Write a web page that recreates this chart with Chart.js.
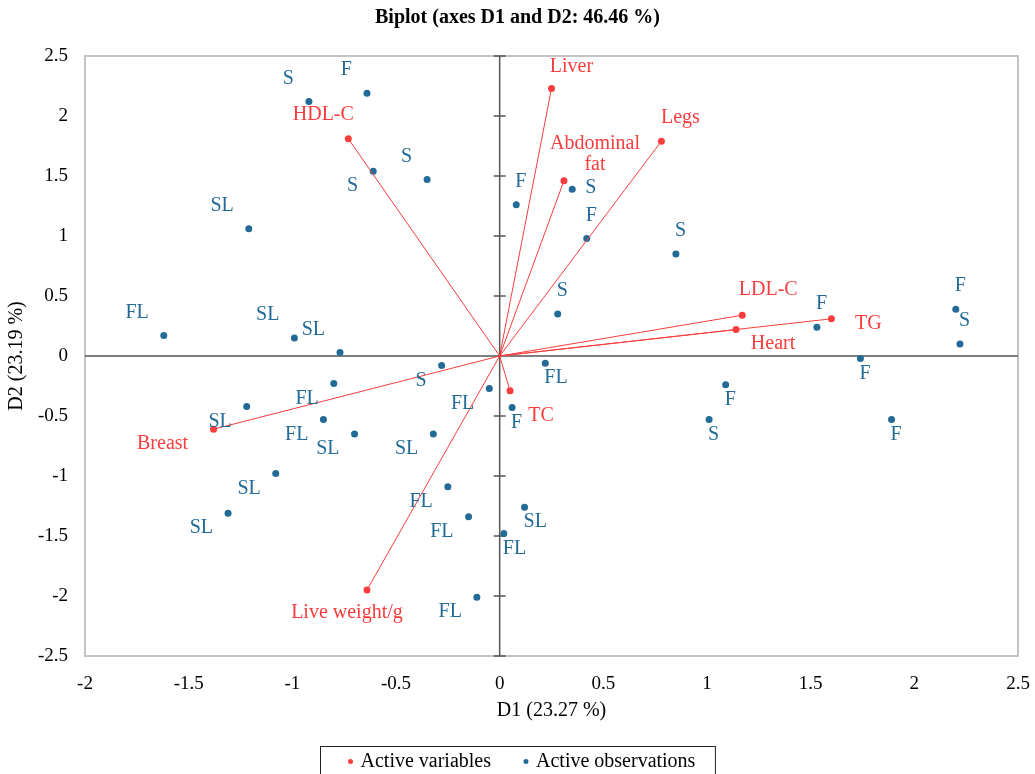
<!DOCTYPE html>
<html>
<head>
<meta charset="utf-8">
<title>Biplot</title>
<script src="https://cdn.jsdelivr.net/npm/chart.js@4.4.0/dist/chart.umd.min.js"></script>
<style>
  html, body { margin: 0; padding: 0; background: #fff; }
  #wrap { width: 1035px; height: 774px; position: relative; }
</style>
</head>
<body>
<div id="wrap"><canvas id="biplot"></canvas></div>
<script>
// active variables (loadings on D1 / D2)
var varNames = ['Live weight/g', 'Breast', 'Legs', 'Heart', 'Liver', 'Abdominal fat', 'TC', 'TG', 'HDL-C', 'LDL-C'];
var varD1 = [-0.64, -1.38, 0.78, 1.14, 0.25, 0.31, 0.05, 1.60, -0.73, 1.17];
var varD2 = [-1.95, -0.61, 1.79, 0.22, 2.23, 1.46, -0.29, 0.31, 1.81, 0.34];

// active observations
var obsNames = ['S', 'F', 'S', 'S', 'SL', 'FL', 'SL', 'SL', 'F', 'S', 'F', 'S',
                'S', 'F', 'F', 'S', 'F', 'FL', 'F', 'F', 'S', 'F', 'SL', 'FL',
                'S', 'FL', 'FL', 'SL', 'FL', 'SL', 'SL', 'SL', 'SL', 'FL', 'FL', 'FL'];
var obsD1 = [-0.92, -0.64, -0.61, -0.35, -1.21, -1.62, -0.99, -0.77, 0.08, 0.35, 0.42, 0.85,
             0.28, 1.53, 2.20, 2.22, 1.74, 0.22, 0.06, 1.09, 1.01, 1.89, 0.12, 0.02,
             -0.28, -0.80, -0.05, -1.22, -0.85, -0.70, -0.32, -1.08, -1.31, -0.25, -0.15, -0.11];
var obsD2 = [2.12, 2.19, 1.54, 1.47, 1.06, 0.17, 0.15, 0.03, 1.26, 1.39, 0.98, 0.85,
             0.35, 0.24, 0.39, 0.10, -0.02, -0.06, -0.43, -0.24, -0.53, -0.53, -1.26, -1.48,
             -0.08, -0.23, -0.27, -0.42, -0.53, -0.65, -0.65, -0.98, -1.31, -1.09, -1.34, -2.01];

// label placement (style only): al = above-left, bl = below-left, a = above, b = below, r = right
var obsLabelPos = ['al', 'al', 'bl', 'al', 'al', 'al', 'al', 'al', 'a', 'r', 'a', 'a',
                   'a', 'a', 'a', 'a', 'b', 'b', 'b', 'b', 'b', 'b', 'b', 'b',
                   'bl', 'bl', 'bl', 'bl', 'bl', 'bl', 'bl', 'bl', 'bl', 'bl', 'bl', 'bl'];
var varLabelShift = [[-20, 23], [-51, 15], [19, -23], [37, 14], [20, -22], [31, -27], [31, 25], [37, 5], [-25, -24], [26, -25]];

var RED = '#fa3c3c';
var BLUE = '#226b97';
var SERIF = "'Liberation Serif', 'Times New Roman', serif";

var vectorSets = varNames.map(function(n, i) {
    return {
        label: n,
        data: [{x: 0, y: 0}, {x: varD1[i], y: varD2[i]}],
        showLine: true,
        borderColor: RED,
        borderWidth: 1,
        pointRadius: 0
    };
});

var varSet = {
    label: 'Active variables',
    data: varNames.map(function(n, i) { return {x: varD1[i], y: varD2[i]}; }),
    backgroundColor: RED,
    borderWidth: 0,
    pointRadius: 3.5
};
var obsSet = {
    label: 'Active observations',
    data: obsNames.map(function(n, i) { return {x: obsD1[i], y: obsD2[i]}; }),
    backgroundColor: BLUE,
    borderWidth: 0,
    pointRadius: 3.5
};

function tickText(v) { return String(Math.round(v * 10) / 10); }

var decor = {
    id: 'decor',
    beforeDatasetsDraw: function(chart) {
        var ctx = chart.ctx, a = chart.chartArea;
        var xs = chart.scales.x, ys = chart.scales.y;
        var x0 = xs.getPixelForValue(0), y0 = ys.getPixelForValue(0);
        ctx.save();
        ctx.strokeStyle = '#c4c4c4';
        ctx.lineWidth = 2;
        ctx.strokeRect(a.left, a.top, a.right - a.left, a.bottom - a.top);
        ctx.strokeStyle = '#555';
        ctx.lineWidth = 1.5;
        ctx.beginPath();
        ctx.moveTo(a.left, y0); ctx.lineTo(a.right, y0);
        ctx.moveTo(x0, a.top); ctx.lineTo(x0, a.bottom);
        ys.ticks.forEach(function(t) {
            var py = ys.getPixelForValue(t.value);
            ctx.moveTo(x0 - 6, py); ctx.lineTo(x0 + 6, py);
        });
        ctx.stroke();
        ctx.restore();
    },
    afterDatasetsDraw: function(chart) {
        var ctx = chart.ctx;
        var n = chart.data.datasets.length;
        var varPts = chart.getDatasetMeta(n - 2).data;
        var obsPts = chart.getDatasetMeta(n - 1).data;
        ctx.save();
        ctx.font = '20px ' + SERIF;
        ctx.textBaseline = 'middle';

        ctx.fillStyle = BLUE;
        obsPts.forEach(function(p, i) {
            var pos = obsLabelPos[i], dx = -1, dy = -23;
            ctx.textAlign = 'left';
            if (pos === 'al') { ctx.textAlign = 'right'; dx = -15; dy = -23; }
            else if (pos === 'bl') { ctx.textAlign = 'right'; dx = -15; dy = 15; }
            else if (pos === 'b') { dx = -1; dy = 15; }
            else if (pos === 'r') { dx = 13; dy = -1; }
            ctx.fillText(obsNames[i], p.x + dx, p.y + dy);
        });

        ctx.fillStyle = RED;
        ctx.textAlign = 'center';
        varPts.forEach(function(p, i) {
            var s = varLabelShift[i];
            var name = varNames[i];
            if (name === 'Abdominal fat') {
                ctx.fillText('Abdominal', p.x + s[0], p.y + s[1] - 10.5);
                ctx.fillText('fat', p.x + s[0], p.y + s[1] + 10.5);
            } else {
                ctx.fillText(name, p.x + s[0], p.y + s[1]);
            }
        });
        ctx.restore();
    },
    afterDraw: function(chart) {
        // boxed legend at the bottom
        var ctx = chart.ctx;
        var items = [{t: 'Active variables', c: RED}, {t: 'Active observations', c: BLUE}];
        ctx.save();
        ctx.font = '20px ' + SERIF;
        var padL = 30, dotGap = 10, itemGap = 35, padR = 20;
        var w = padL + padR;
        items.forEach(function(it, i) {
            it.w = ctx.measureText(it.t).width;
            w += dotGap + it.w + (i ? itemGap : 0);
        });
        var left = Math.round(chart.width / 2 - w / 2) + 0.5;
        var top = chart.height - 28 + 0.5;
        ctx.strokeStyle = '#222';
        ctx.lineWidth = 1;
        ctx.strokeRect(left, top, w, 40);
        var cy = top + 15;
        var x = left + padL;
        ctx.textBaseline = 'middle';
        ctx.textAlign = 'left';
        items.forEach(function(it, i) {
            if (i) x += itemGap;
            ctx.fillStyle = it.c;
            ctx.beginPath();
            ctx.arc(x, cy, 2.5, 0, Math.PI * 2);
            ctx.fill();
            ctx.fillStyle = '#000';
            ctx.fillText(it.t, x + dotGap, cy);
            x += dotGap + it.w;
        });
        ctx.restore();
    }
};

var ctx = document.getElementById('biplot').getContext('2d');
var chart = new Chart(ctx, {
    type: 'scatter',
    data: {
        datasets: vectorSets.concat([varSet, obsSet])
    },
    options: {
        responsive: true,
        maintainAspectRatio: false,
        animation: false,
        layout: { padding: { left: 17, right: 17, top: 0, bottom: 28 } },
        plugins: {
            legend: { display: false },
            tooltip: { enabled: false },
            title: {
                display: true,
                text: 'Biplot (axes D1 and D2: 46.46 %)',
                color: '#000',
                font: { family: SERIF, size: 20, weight: 'bold' },
                padding: { top: 6, bottom: 26 }
            }
        },
        scales: {
            x: {
                type: 'linear',
                min: -2,
                max: 2.5,
                grid: { display: false, drawTicks: false },
                border: { display: false },
                ticks: { stepSize: 0.5, padding: 17, color: '#000', font: { family: SERIF, size: 19 }, callback: tickText },
                title: { display: true, text: 'D1 (23.27 %)', color: '#000', font: { family: SERIF, size: 20 }, padding: { top: 0, bottom: 23 } },
                afterFit: function(s) { s.height = 90; s.paddingLeft = 0; s.paddingRight = 0; }
            },
            y: {
                type: 'linear',
                min: -2.5,
                max: 2.5,
                grid: { display: false, drawTicks: false },
                border: { display: false },
                ticks: { stepSize: 0.5, padding: 17, color: '#000', font: { family: SERIF, size: 19 }, callback: tickText },
                title: { display: true, text: 'D2 (23.19 %)', color: '#000', font: { family: SERIF, size: 20 }, padding: { top: -12, bottom: 0 } },
                afterFit: function(s) { s.width = 68; }
            }
        }
    },
    plugins: [decor]
});
</script>
</body>
</html>
